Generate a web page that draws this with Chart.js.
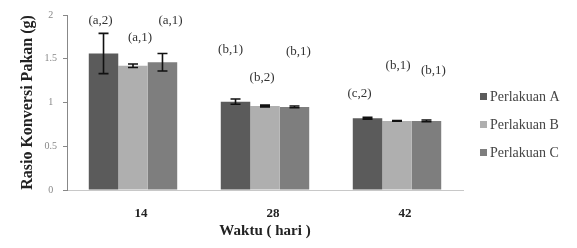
<!DOCTYPE html>
<html>
<head>
<meta charset="utf-8">
<script src="https://cdn.jsdelivr.net/npm/chart.js@4.4.1/dist/chart.umd.min.js"></script>
<style>
  html, body { margin: 0; padding: 0; background: #fff; }
  #wrap { width: 577px; height: 248px; }
</style>
</head>
<body>
<div id="wrap"><canvas id="fcr-chart" width="577" height="248"></canvas></div>
<script>
// data
const days = ['14', '28', '42'];
const seriesNames = ['Perlakuan A', 'Perlakuan B', 'Perlakuan C'];
const perlakuanA = [1.56, 1.01, 0.82];
const perlakuanB = [1.42, 0.96, 0.79];
const perlakuanC = [1.46, 0.95, 0.79];
const errA = [0.23, 0.03, 0.01];
const errB = [0.02, 0.01, 0.005];
const errC = [0.10, 0.01, 0.01];
// notasi huruf di atas batang
const notesA = ['(a,2)', '(b,1)', '(c,2)'];
const notesB = ['(a,1)', '(b,2)', '(b,1)'];
const notesC = ['(a,1)', '(b,1)', '(b,1)'];
const noteLevelA = [1.94, 1.60, 1.10];
const noteLevelB = [1.74, 1.29, 1.42];
const noteLevelC = [1.94, 1.58, 1.37];
const yTicks = [0, 0.5, 1, 1.5, 2];

const serif = '"Liberation Serif", "DejaVu Serif", serif';
const barColors = ['#5b5b5b', '#afafaf', '#7e7e7e'];
const noteShift = [[-3, -5, -8], [7, -3, 1], [8, 4, 7]];

const errors = [errA, errB, errC];
const notes = [notesA, notesB, notesC];
const noteLevels = [noteLevelA, noteLevelB, noteLevelC];

const errorBars = {
  id: 'errorBars',
  afterDatasetsDraw(chart) {
    const ctx = chart.ctx;
    const y = chart.scales.y;
    ctx.save();
    ctx.strokeStyle = '#111';
    ctx.lineWidth = 1.6;
    chart.data.datasets.forEach((ds, i) => {
      chart.getDatasetMeta(i).data.forEach((bar, j) => {
        const v = ds.data[j];
        const e = errors[i][j];
        const top = y.getPixelForValue(v + e);
        const bot = y.getPixelForValue(v - e);
        ctx.beginPath();
        ctx.moveTo(bar.x, top);
        ctx.lineTo(bar.x, bot);
        ctx.moveTo(bar.x - 5, top);
        ctx.lineTo(bar.x + 5, top);
        ctx.moveTo(bar.x - 5, bot);
        ctx.lineTo(bar.x + 5, bot);
        ctx.stroke();
      });
    });
    ctx.restore();
  }
};

const barNotes = {
  id: 'barNotes',
  afterDatasetsDraw(chart) {
    const ctx = chart.ctx;
    const y = chart.scales.y;
    ctx.save();
    ctx.font = '13px ' + serif;
    ctx.fillStyle = '#333';
    ctx.textAlign = 'center';
    ctx.textBaseline = 'middle';
    chart.data.datasets.forEach((ds, i) => {
      chart.getDatasetMeta(i).data.forEach((bar, j) => {
        ctx.fillText(notes[i][j], bar.x + noteShift[i][j], y.getPixelForValue(noteLevels[i][j]));
      });
    });
    ctx.restore();
  }
};

const sideLegend = {
  id: 'sideLegend',
  afterDraw(chart) {
    const ctx = chart.ctx;
    ctx.save();
    ctx.font = '14px ' + serif;
    ctx.textBaseline = 'middle';
    chart.data.datasets.forEach((ds, i) => {
      const yy = 97 + i * 28;
      ctx.fillStyle = ds.backgroundColor;
      ctx.fillRect(480, yy - 4, 7, 7);
      ctx.fillStyle = '#444';
      ctx.fillText(ds.label, 490, yy);
    });
    ctx.restore();
  }
};

const allSeries = [perlakuanA, perlakuanB, perlakuanC];

new Chart(document.querySelector('#fcr-chart'), {
  type: 'bar',
  data: {
    labels: days,
    datasets: allSeries.map((vals, i) => ({
      label: seriesNames[i],
      data: vals,
      backgroundColor: barColors[i],
      borderWidth: 0,
      barPercentage: 1,
      categoryPercentage: 0.67
    }))
  },
  options: {
    responsive: false,
    animation: false,
    layout: { padding: { top: 15, right: 114, left: 0, bottom: 0 } },
    plugins: {
      legend: { display: false },
      tooltip: { enabled: false }
    },
    scales: {
      x: {
        afterFit: (s) => { s.height = 58; },
        grid: { display: false, drawTicks: false },
        border: { display: true, color: '#c8c8c8', dash: [2, 2] },
        ticks: { padding: 16, labelOffset: 8, color: '#222', font: { family: serif, size: 13, weight: 'bold' } },
        title: {
          display: true,
          text: 'Waktu ( hari )',
          color: '#222',
          padding: 8,
          font: { family: serif, size: 15, weight: 'bold' }
        }
      },
      y: {
        min: 0,
        max: 2,
        afterFit: (s) => { s.width = 67; },
        afterBuildTicks: (s) => { s.ticks = yTicks.map((v) => ({ value: v })); },
        grid: { drawOnChartArea: false, tickLength: 4, color: '#888' },
        border: { color: '#888' },
        ticks: {
          padding: 6,
          crossAlign: 'center',
          color: '#888',
          font: { family: serif, size: 10 },
          callback: (v) => String(v)
        },
        title: {
          display: true,
          text: 'Rasio Konversi Pakan (g)',
          color: '#222',
          padding: 18,
          font: { family: serif, size: 16, weight: 'bold' }
        }
      }
    }
  },
  plugins: [errorBars, barNotes, sideLegend]
});
</script>
</body>
</html>
